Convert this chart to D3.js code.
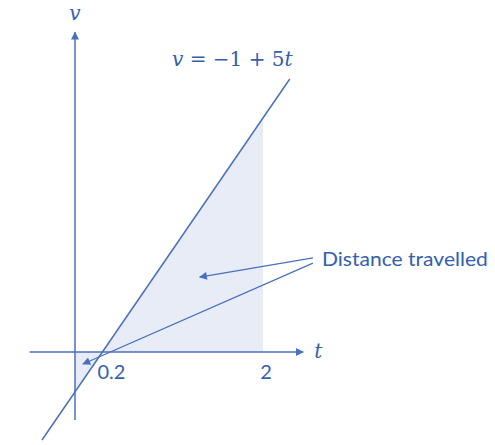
<!DOCTYPE html>
<html>
<head>
<meta charset="utf-8">
<script src="https://cdn.jsdelivr.net/npm/d3@7"></script>
<style>
  html, body { margin: 0; padding: 0; background: #ffffff; }
  svg { display: block; }
</style>
</head>
<body>
<svg id="chart" width="495" height="445"></svg>
<script>
// ---- data ----
const tBreaks = [0, 0.2, 2];          // t values that anchor the schematic t scale
const vBreaks = [-1, 0, 9];           // v values that anchor the schematic v scale
const intercept = -1;                 // v = -1 + 5t
const slope = 5;
const lineT = [-0.24, 2.3];           // extent of the drawn line in t
const tAxisExtent = [-0.33, 2.45];    // horizontal axis extent in t
const vAxisExtent = [-1.7, 12.3];     // vertical axis extent in v
const tickValues = [0.2, 2];
const tickLabels = ["0.2", "2"];
const shadeT = [0, 0.2, 2];           // shaded region bounds
const labelText = "Distance travelled";
const labelAnchor = [2.56, 3.5];      // where the callout lines start (t, v)
const arrowTargets = [[1.29, 2.88], [0.058, -0.3]];
const arrowStarts = [[2.56, 3.62], [2.56, 3.42]];

// ---- scales ----
const x = d3.scaleLinear().domain(tBreaks).range([75, 102.5, 263]);
const y = d3.scaleLinear().domain(vBreaks).range([392, 352, 118]);
const v = t => intercept + slope * t;

const lineColor = "#4a70bd";
const textColor = "#3360ad";
const shadeColor = "#e8ecf6";

const svg = d3.select("#chart");
const defs = svg.append("defs");
function marker(id, w, h) {
  defs.append("marker")
    .attr("id", id)
    .attr("viewBox", "0 0 10 10")
    .attr("refX", 9).attr("refY", 5)
    .attr("markerWidth", w).attr("markerHeight", h)
    .attr("markerUnits", "userSpaceOnUse")
    .attr("orient", "auto")
    .append("path")
    .attr("d", "M0,0 L10,5 L0,10 Z")
    .attr("fill", lineColor);
}
marker("axisArrow", 11, 8);
marker("callArrow", 10, 8);

// shaded area
const shadePts = [
  [shadeT[0], 0], [shadeT[0], v(shadeT[0])], [shadeT[1], 0],
  [shadeT[2], v(shadeT[2])], [shadeT[2], 0]
];
svg.append("path")
  .attr("d", d3.line().x(d => x(d[0])).y(d => y(d[1]))(shadePts) + "Z")
  .attr("fill", shadeColor);

// axes
svg.append("line")
  .attr("x1", x(tAxisExtent[0])).attr("x2", x(tAxisExtent[1]))
  .attr("y1", y(0)).attr("y2", y(0))
  .attr("stroke", lineColor).attr("stroke-width", 1.5)
  .attr("marker-end", "url(#axisArrow)");
svg.append("line")
  .attr("x1", x(0)).attr("x2", x(0))
  .attr("y1", y(vAxisExtent[0])).attr("y2", y(vAxisExtent[1]))
  .attr("stroke", lineColor).attr("stroke-width", 1.5)
  .attr("marker-end", "url(#axisArrow)");

// the line v = -1 + 5t
svg.append("path")
  .attr("d", d3.line().x(d => x(d)).y(d => y(v(d)))(lineT))
  .attr("fill", "none")
  .attr("stroke", lineColor).attr("stroke-width", 1.5);

// callout arrows
arrowTargets.forEach((tg, i) => {
  svg.append("line")
    .attr("x1", x(arrowStarts[i][0])).attr("y1", y(arrowStarts[i][1]))
    .attr("x2", x(tg[0])).attr("y2", y(tg[1]))
    .attr("stroke", lineColor).attr("stroke-width", 1.3)
    .attr("marker-end", "url(#callArrow)");
});

// tick labels
const sans = "Lato, 'Open Sans', sans-serif";
svg.selectAll("text.tick")
  .data(tickValues)
  .join("text")
  .attr("class", "tick")
  .attr("x", (d, i) => i === 0 ? x(d) - 5 : x(d) + 3)
  .attr("y", y(0) + 27)
  .attr("text-anchor", (d, i) => i === 0 ? "start" : "middle")
  .attr("font-family", sans)
  .attr("font-size", 20)
  .attr("fill", textColor)
  .text((d, i) => tickLabels[i]);

// callout label
svg.append("text")
  .attr("x", x(labelAnchor[0]) + 9)
  .attr("y", y(labelAnchor[1]) + 5)
  .attr("font-family", sans)
  .attr("font-size", 20)
  .attr("textLength", 166)
  .attr("lengthAdjust", "spacingAndGlyphs")
  .attr("fill", textColor)
  .text(labelText);

// math labels
const serif = "'DejaVu Serif', 'Liberation Serif', serif";
svg.append("text")
  .attr("x", x(0)).attr("y", y(vAxisExtent[1]) - 12)
  .attr("text-anchor", "middle")
  .attr("font-family", serif).attr("font-style", "italic")
  .attr("font-size", 20).attr("fill", textColor)
  .text("v");
svg.append("text")
  .attr("x", x(tAxisExtent[1]) + 11).attr("y", y(0) + 6)
  .attr("font-family", serif).attr("font-style", "italic")
  .attr("font-size", 20).attr("fill", textColor)
  .text("t");

const eq = svg.append("text")
  .attr("x", 172).attr("y", 66)
  .attr("font-family", serif)
  .attr("font-size", 20).attr("fill", textColor);
eq.append("tspan").attr("font-style", "italic").text("v");
eq.append("tspan").text(" = −1 + 5");
eq.append("tspan").attr("font-style", "italic").text("t");
</script>
</body>
</html>
